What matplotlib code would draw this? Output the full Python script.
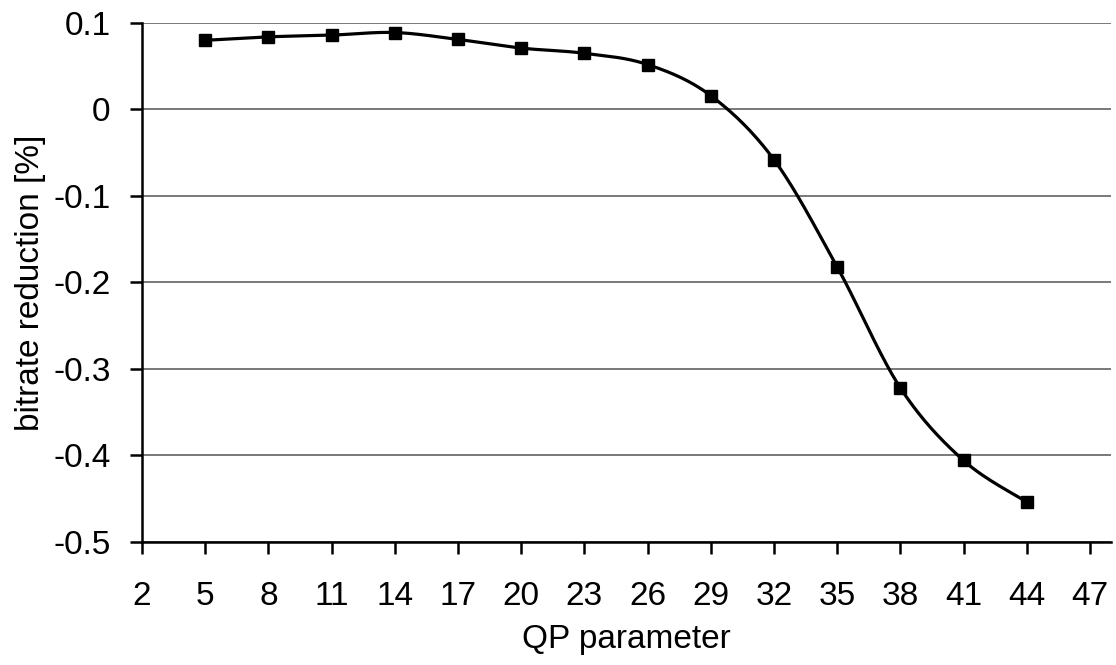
import numpy as np
import matplotlib
matplotlib.use("Agg")
import matplotlib.pyplot as plt

plt.rcParams['font.family'] = ['Liberation Sans', 'DejaVu Sans']

# QP values and measured bitrate reduction
qp = [5, 8, 11, 14, 17, 20, 23, 26, 29, 32, 35, 38, 41, 44]
reduction = [0.080, 0.084, 0.086, 0.089, 0.081, 0.071, 0.065, 0.052,
             0.016, -0.058, -0.182, -0.322, -0.406, -0.454]
x_ticks = list(range(2, 48, 3))
y_ticks = [-0.5, -0.4, -0.3, -0.2, -0.1, 0, 0.1]
y_tick_labels = ['-0.5', '-0.4', '-0.3', '-0.2', '-0.1', '0', '0.1']


def smooth_curve(xs, ys, n=30):
    """Cubic Bezier smoothing through every point (Catmull-Rom, tension 1/6)."""
    p = np.column_stack([xs, ys]).astype(float)
    pts = np.vstack([p[0], p, p[-1]])
    out = []
    t = np.linspace(0, 1, n)[:, None]
    for i in range(1, len(pts) - 2):
        p0, p3 = pts[i], pts[i + 1]
        c1 = p0 + (pts[i + 1] - pts[i - 1]) / 6.0
        c2 = p3 - (pts[i + 2] - pts[i]) / 6.0
        seg = ((1 - t) ** 3) * p0 + 3 * ((1 - t) ** 2) * t * c1 \
            + 3 * (1 - t) * t ** 2 * c2 + t ** 3 * p3
        out.append(seg if i == 1 else seg[1:])
    seg = np.vstack(out)
    return seg[:, 0], seg[:, 1]


fig = plt.figure(figsize=(11.16, 6.65), dpi=100)
ax = fig.add_axes([0.1272, 0.1854, 0.8683, 0.780])

# smooth in a scaled space so both axes carry comparable weight
sy = 10.0
cx, cy = smooth_curve(np.array(qp, float), np.array(reduction) * sy)
ax.plot(cx, cy / sy, color='black', lw=2.3, zorder=3,
        solid_joinstyle='round')
ax.plot(qp, reduction, linestyle='none', marker='s', markersize=8.5,
        color='black', zorder=4)

ax.set_xlim(2, 48)
ax.set_ylim(-0.5, 0.1)
ax.set_xticks(x_ticks)
ax.set_xticklabels([str(v) for v in x_ticks])
ax.set_yticks(y_ticks)
ax.set_yticklabels(y_tick_labels)

ax.yaxis.grid(True, color='#555555', lw=1.1)
ax.set_axisbelow(True)
for side in ('top', 'right'):
    ax.spines[side].set_visible(False)
for side in ('left', 'bottom'):
    ax.spines[side].set_linewidth(1.8)
    ax.spines[side].set_color('black')

ax.tick_params(axis='both', direction='out', length=8.5, width=1.8,
               labelsize=24, color='black')
ax.tick_params(axis='y', pad=14)
ax.tick_params(axis='x', pad=19.5)

ax.set_xlabel('QP parameter', fontsize=24, labelpad=9)
ax.set_ylabel('bitrate reduction [%]', fontsize=24, labelpad=5)

fig.savefig('out.png', dpi=100)
